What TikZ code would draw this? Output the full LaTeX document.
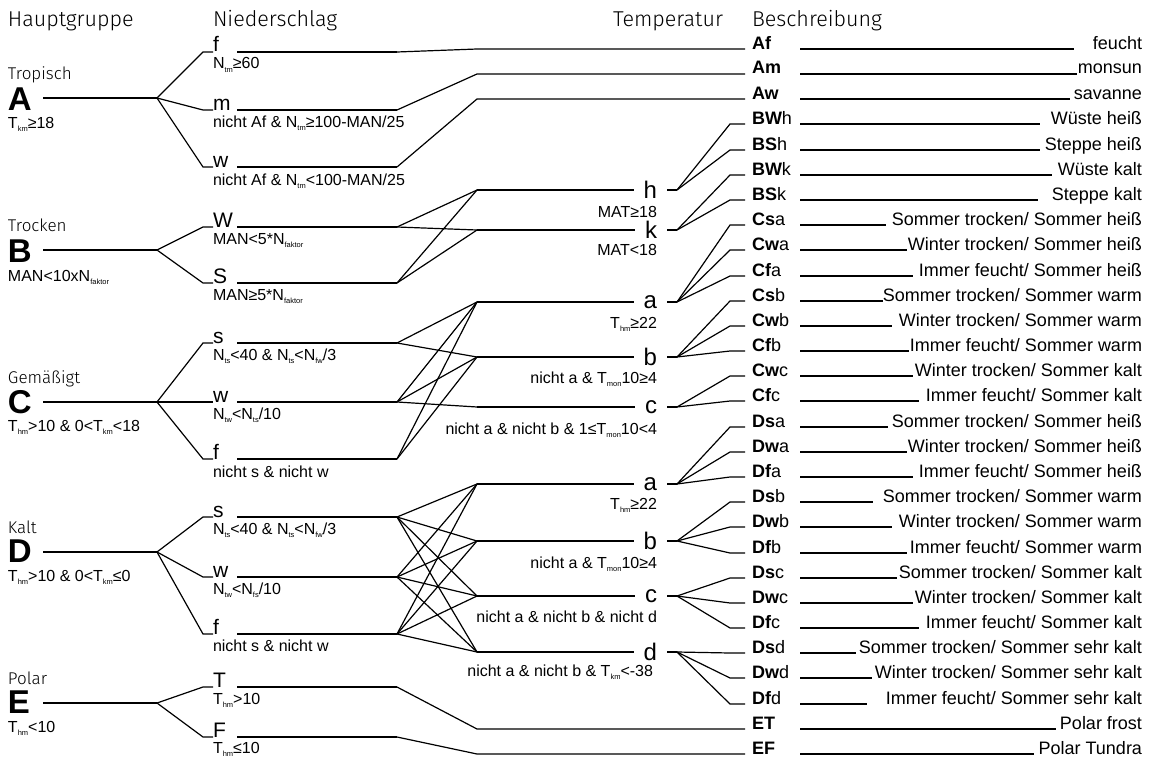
\documentclass[tikz,border=0pt]{standalone}
\usepackage{fontspec}
\setmainfont{Liberation Sans}
\IfFontExistsTF{Fira Sans Light}{\newfontfamily\headfont{Fira Sans Light}}{%
  \IfFontExistsTF{FiraSans-Light.otf}{\newfontfamily\headfont{FiraSans-Light.otf}}{\newfontfamily\headfont{Fira Sans}}}
\newcommand\lowidx[1]{\raisebox{-3.5pt}{\fontsize{7.5}{8}\selectfont #1}}

\begin{document}
\begin{tikzpicture}[x=1pt,y=-1pt,line width=1.2pt,
head/.style={font=\headfont\fontsize{21.5}{24}\selectfont,inner sep=0,outer sep=0,anchor=base west},
grpname/.style={font=\headfont\fontsize{17}{20}\selectfont,inner sep=0,outer sep=0,anchor=base west},
grp/.style={font=\bfseries\fontsize{33}{35}\selectfont,inner sep=0,outer sep=0,anchor=west,text width=35pt,text depth=0pt},
cond/.style={font=\fontsize{16}{18}\selectfont,inner sep=0,outer sep=0,anchor=base west},
tcond/.style={cond,anchor=base east},
prec/.style={font=\fontsize{21}{23}\selectfont,inner sep=0,outer sep=0,anchor=base west,text width=24pt},
temp/.style={font=\fontsize{24}{26}\selectfont,inner xsep=10pt,inner ysep=0,outer sep=0,anchor=east},
code/.style={font=\fontsize{18}{20}\selectfont,inner xsep=7pt,inner ysep=0,outer sep=0,anchor=base west,text width=41pt,align=left},
desc/.style={font=\fontsize{18}{20}\selectfont,inner sep=0,outer sep=0,anchor=base east}]
\useasboundingbox (0,0) rectangle (1153,760);
% column heads
\node[head] at (8,27) {Hauptgruppe};
\node[head] at (213,27) {Niederschlag};
\node[head,anchor=base east] at (723,27) {Temperatur};
\node[head] at (752,27) {Beschreibung};
% main groups
\node[grp] (gA) at (8,99) {A};
\node[grpname] at (8,79) {Tropisch};
\node[cond] at (8,128) {T\lowidx{km}≥18};
\node[grp] (gB) at (8,251) {B};
\node[grpname] at (8,231) {Trocken};
\node[cond] at (8,281) {MAN<10xN\lowidx{faktor}};
\node[grp] (gC) at (8,402) {C};
\node[grpname] at (8,383) {Gemäßigt};
\node[cond] at (8,431) {T\lowidx{hm}>10 \& 0<T\lowidx{km}<18};
\node[grp] (gD) at (8,551) {D};
\node[grpname] at (8,533) {Kalt};
\node[cond] at (8,581) {T\lowidx{hm}>10 \& 0<T\lowidx{km}≤0};
\node[grp] (gE) at (8,702) {E};
\node[grpname] at (8,684) {Polar};
\node[cond] at (8,732) {T\lowidx{hm}<10};
\coordinate (jA) at (157,98);
\coordinate (jB) at (157,250);
\coordinate (jC) at (157,402);
\coordinate (jD) at (157,552);
\coordinate (jE) at (157,703);
\foreach \g in {A,B,C,D,E} \draw (g\g.east |- j\g) -- (j\g);
% precipitation
\node[prec] (pAf) at (213,52) {f};
\node[cond] at (213,69) {N\lowidx{tm}≥60};
\node[prec] (pAm) at (213,110) {m};
\node[cond] at (213,127) {nicht Af \& N\lowidx{tm}≥100-MAN/25};
\node[prec] (pAw) at (213,167) {w};
\node[cond] at (213,185) {nicht Af \& N\lowidx{tm}<100-MAN/25};
\node[prec] (pBW) at (213,227) {W};
\node[cond] at (213,244) {MAN<5*N\lowidx{faktor}};
\node[prec] (pBS) at (213,283) {S};
\node[cond] at (213,300) {MAN≥5*N\lowidx{faktor}};
\node[prec] (pCs) at (213,343) {s};
\node[cond] at (213,360) {N\lowidx{ts}<40 \& N\lowidx{ts}<N\lowidx{fw}/3};
\node[prec] (pCw) at (213,402) {w};
\node[cond] at (213,419) {N\lowidx{tw}<N\lowidx{ts}/10};
\node[prec] (pCf) at (213,459) {f};
\node[cond] at (213,477) {nicht s \& nicht w};
\node[prec] (pDs) at (213,517) {s};
\node[cond] at (213,534) {N\lowidx{ts}<40 \& N\lowidx{ts}<N\lowidx{fw}/3};
\node[prec] (pDw) at (213,577) {w};
\node[cond] at (213,594) {N\lowidx{tw}<N\lowidx{fs}/10};
\node[prec] (pDf) at (213,634) {f};
\node[cond] at (213,651) {nicht s \& nicht w};
\node[prec] (pET) at (213,687) {T};
\node[cond] at (213,704) {T\lowidx{hm}>10};
\node[prec] (pEF) at (213,737) {F};
\node[cond] at (213,753) {T\lowidx{hm}≤10};
\foreach \p in {Af,Am,Aw} \draw (jA) -- ([xshift=-10pt]p\p.base west) -- (p\p.base west);
\foreach \p in {BW,BS} \draw (jB) -- ([xshift=-10pt]p\p.base west) -- (p\p.base west);
\foreach \p in {Cs,Cw,Cf} \draw (jC) -- ([xshift=-10pt]p\p.base west) -- (p\p.base west);
\foreach \p in {Ds,Dw,Df} \draw (jD) -- ([xshift=-10pt]p\p.base west) -- (p\p.base west);
\foreach \p in {ET,EF} \draw (jE) -- ([xshift=-10pt]p\p.base west) -- (p\p.base west);
\coordinate (jAf) at (397,52);
\coordinate (jAm) at (397,110);
\coordinate (jAw) at (397,167);
\coordinate (jBW) at (397,227);
\coordinate (jBS) at (397,283);
\coordinate (jCs) at (397,343);
\coordinate (jCw) at (397,402);
\coordinate (jCf) at (397,459);
\coordinate (jDs) at (397,517);
\coordinate (jDw) at (397,577);
\coordinate (jDf) at (397,634);
\coordinate (jET) at (397,687);
\coordinate (jEF) at (397,737);
\foreach \p in {Af,Am,Aw,BW,BS,Cs,Cw,Cf,Ds,Dw,Df,ET,EF} \draw (p\p.base east) -- (j\p);
% temperature
\node[temp] (tBh) at (667,190) {h};
\node[tcond] at (657,217) {MAT≥18};
\node[temp] (tBk) at (667,230) {k};
\node[tcond] at (657,255) {MAT<18};
\node[temp] (tCa) at (667,302) {a};
\node[tcond] at (657,328) {T\lowidx{hm}≥22};
\node[temp] (tCb) at (667,357) {b};
\node[tcond] at (657,383) {nicht a \& T\lowidx{mon}10≥4};
\node[temp] (tCc) at (667,407) {c};
\node[tcond] at (657,434) {nicht a \& nicht b \& 1≤T\lowidx{mon}10<4};
\node[temp] (tDa) at (667,484) {a};
\node[tcond] at (657,509) {T\lowidx{hm}≥22};
\node[temp] (tDb) at (667,541) {b};
\node[tcond] at (657,568) {nicht a \& T\lowidx{mon}10≥4};
\node[temp] (tDc) at (667,596) {c};
\node[tcond] at (657,622) {nicht a \& nicht b \& nicht d};
\node[temp] (tDd) at (667,652) {d};
\node[tcond] at (653,676) {nicht a \& nicht b \& T\lowidx{km}<-38};
\coordinate (kBh) at (477,190);
\coordinate (kBk) at (477,230);
\coordinate (kCa) at (477,302);
\coordinate (kCb) at (477,357);
\coordinate (kCc) at (477,407);
\coordinate (kDa) at (477,484);
\coordinate (kDb) at (477,541);
\coordinate (kDc) at (477,596);
\coordinate (kDd) at (477,652);
\foreach \t in {Bh,Bk,Ca,Cb,Cc,Da,Db,Dc,Dd} \draw (k\t) -- (t\t.west) (t\t.east) -- ([xshift=10pt]t\t.east) coordinate (r\t);
\foreach \s in {BW,BS} \foreach \t in {Bh,Bk} \draw (j\s) -- (k\t);
\foreach \t in {Ca,Cb} \draw (jCs) -- (k\t);
\foreach \t in {Ca,Cb,Cc} \draw (jCw) -- (k\t);
\foreach \t in {Ca,Cb} \draw (jCf) -- (k\t);
\foreach \s in {Ds,Dw,Df} \foreach \t in {Da,Db,Dc,Dd} \draw (j\s) -- (k\t);
% description
\node[code] (Af) at (745,49) {\textbf{Af}}; \node[desc] (dAf) at (1142,49) {feucht}; \draw[shorten >=19pt] (Af.base east) -- (dAf.base west);
\node[code] (Am) at (745,74) {\textbf{Am}}; \node[desc] (dAm) at (1142,74) {monsun}; \draw[shorten >=1pt] (Am.base east) -- (dAm.base west);
\node[code] (Aw) at (745,99) {\textbf{Aw}}; \node[desc] (dAw) at (1142,99) {savanne}; \draw[shorten >=4pt] (Aw.base east) -- (dAw.base west);
\node[code] (BWh) at (745,124) {\textbf{BW}h}; \node[desc] (dBWh) at (1142,124) {Wüste heiß}; \draw[shorten >=11pt] (BWh.base east) -- (dBWh.base west);
\node[code] (BSh) at (745,150) {\textbf{BS}h}; \node[desc] (dBSh) at (1142,150) {Steppe heiß}; \draw[shorten >=5pt] (BSh.base east) -- (dBSh.base west);
\node[code] (BWk) at (745,175) {\textbf{BW}k}; \node[desc] (dBWk) at (1142,175) {Wüste kalt}; \draw[shorten >=6pt] (BWk.base east) -- (dBWk.base west);
\node[code] (BSk) at (745,200) {\textbf{BS}k}; \node[desc] (dBSk) at (1142,200) {Steppe kalt}; \draw[shorten >=14pt] (BSk.base east) -- (dBSk.base west);
\node[code] (Csa) at (745,225) {\textbf{Cs}a}; \node[desc] (dCsa) at (1142,225) {Sommer trocken/ Sommer heiß}; \draw[shorten >=6pt] (Csa.base east) -- (dCsa.base west);
\node[code] (Cwa) at (745,250) {\textbf{Cw}a}; \node[desc] (dCwa) at (1142,250) {Winter trocken/ Sommer heiß}; \draw[shorten >=1pt] (Cwa.base east) -- (dCwa.base west);
\node[code] (Cfa) at (745,276) {\textbf{Cf}a}; \node[desc] (dCfa) at (1142,276) {Immer feucht/ Sommer heiß}; \draw[shorten >=6pt] (Cfa.base east) -- (dCfa.base west);
\node[code] (Csb) at (745,301) {\textbf{Cs}b}; \node[desc] (dCsb) at (1142,301) {Sommer trocken/ Sommer warm}; \draw[shorten >=0pt] (Csb.base east) -- (dCsb.base west);
\node[code] (Cwb) at (745,326) {\textbf{Cw}b}; \node[desc] (dCwb) at (1142,326) {Winter trocken/ Sommer warm}; \draw[shorten >=7pt] (Cwb.base east) -- (dCwb.base west);
\node[code] (Cfb) at (745,351) {\textbf{Cf}b}; \node[desc] (dCfb) at (1142,351) {Immer feucht/ Sommer warm}; \draw[shorten >=1pt] (Cfb.base east) -- (dCfb.base west);
\node[code] (Cwc) at (745,376) {\textbf{Cw}c}; \node[desc] (dCwc) at (1142,376) {Winter trocken/ Sommer kalt}; \draw[shorten >=2pt] (Cwc.base east) -- (dCwc.base west);
\node[code] (Cfc) at (745,401) {\textbf{Cf}c}; \node[desc] (dCfc) at (1142,401) {Immer feucht/ Sommer kalt}; \draw[shorten >=7pt] (Cfc.base east) -- (dCfc.base west);
\node[code] (Dsa) at (745,427) {\textbf{Ds}a}; \node[desc] (dDsa) at (1142,427) {Sommer trocken/ Sommer heiß}; \draw[shorten >=4pt] (Dsa.base east) -- (dDsa.base west);
\node[code] (Dwa) at (745,452) {\textbf{Dw}a}; \node[desc] (dDwa) at (1142,452) {Winter trocken/ Sommer heiß}; \draw[shorten >=1pt] (Dwa.base east) -- (dDwa.base west);
\node[code] (Dfa) at (745,477) {\textbf{Df}a}; \node[desc] (dDfa) at (1142,477) {Immer feucht/ Sommer heiß}; \draw[shorten >=6pt] (Dfa.base east) -- (dDfa.base west);
\node[code] (Dsb) at (745,502) {\textbf{Ds}b}; \node[desc] (dDsb) at (1142,502) {Sommer trocken/ Sommer warm}; \draw[shorten >=10pt] (Dsb.base east) -- (dDsb.base west);
\node[code] (Dwb) at (745,527) {\textbf{Dw}b}; \node[desc] (dDwb) at (1142,527) {Winter trocken/ Sommer warm}; \draw[shorten >=7pt] (Dwb.base east) -- (dDwb.base west);
\node[code] (Dfb) at (745,553) {\textbf{Df}b}; \node[desc] (dDfb) at (1142,553) {Immer feucht/ Sommer warm}; \draw[shorten >=3pt] (Dfb.base east) -- (dDfb.base west);
\node[code] (Dsc) at (745,578) {\textbf{Ds}c}; \node[desc] (dDsc) at (1142,578) {Sommer trocken/ Sommer kalt}; \draw[shorten >=2pt] (Dsc.base east) -- (dDsc.base west);
\node[code] (Dwc) at (745,603) {\textbf{Dw}c}; \node[desc] (dDwc) at (1142,603) {Winter trocken/ Sommer kalt}; \draw[shorten >=2pt] (Dwc.base east) -- (dDwc.base west);
\node[code] (Dfc) at (745,628) {\textbf{Df}c}; \node[desc] (dDfc) at (1142,628) {Immer feucht/ Sommer kalt}; \draw[shorten >=7pt] (Dfc.base east) -- (dDfc.base west);
\node[code] (Dsd) at (745,653) {\textbf{Ds}d}; \node[desc] (dDsd) at (1142,653) {Sommer trocken/ Sommer sehr kalt}; \draw[shorten >=3pt] (Dsd.base east) -- (dDsd.base west);
\node[code] (Dwd) at (745,678) {\textbf{Dw}d}; \node[desc] (dDwd) at (1142,678) {Winter trocken/ Sommer sehr kalt}; \draw[shorten >=3pt] (Dwd.base east) -- (dDwd.base west);
\node[code] (Dfd) at (745,704) {\textbf{Df}d}; \node[desc] (dDfd) at (1142,704) {Immer feucht/ Sommer sehr kalt}; \draw[shorten >=19pt] (Dfd.base east) -- (dDfd.base west);
\node[code] (ET) at (745,729) {\textbf{ET}}; \node[desc] (dET) at (1142,729) {Polar frost}; \draw[shorten >=4pt] (ET.base east) -- (dET.base west);
\node[code] (EF) at (745,754) {\textbf{EF}}; \node[desc] (dEF) at (1142,754) {Polar Tundra}; \draw[shorten >=5pt] (EF.base east) -- (dEF.base west);
\coordinate (kAf) at (477,49);
\coordinate (kAm) at (477,74);
\coordinate (kAw) at (477,99);
\coordinate (kET) at (477,729);
\coordinate (kEF) at (477,754);
\foreach \p in {Af,Am,Aw,ET,EF} \draw (j\p) -- (k\p) -- (\p.base west);
\foreach \c in {BWh,BSh} \draw (rBh) -- ([xshift=-15pt]\c.base west) -- (\c.base west);
\foreach \c in {BWk,BSk} \draw (rBk) -- ([xshift=-15pt]\c.base west) -- (\c.base west);
\foreach \c in {Csa,Cwa,Cfa} \draw (rCa) -- ([xshift=-15pt]\c.base west) -- (\c.base west);
\foreach \c in {Csb,Cwb,Cfb} \draw (rCb) -- ([xshift=-15pt]\c.base west) -- (\c.base west);
\foreach \c in {Cwc,Cfc} \draw (rCc) -- ([xshift=-15pt]\c.base west) -- (\c.base west);
\foreach \c in {Dsa,Dwa,Dfa} \draw (rDa) -- ([xshift=-15pt]\c.base west) -- (\c.base west);
\foreach \c in {Dsb,Dwb,Dfb} \draw (rDb) -- ([xshift=-15pt]\c.base west) -- (\c.base west);
\foreach \c in {Dsc,Dwc,Dfc} \draw (rDc) -- ([xshift=-15pt]\c.base west) -- (\c.base west);
\foreach \c in {Dsd,Dwd,Dfd} \draw (rDd) -- ([xshift=-15pt]\c.base west) -- (\c.base west);
\end{tikzpicture}
\end{document}
